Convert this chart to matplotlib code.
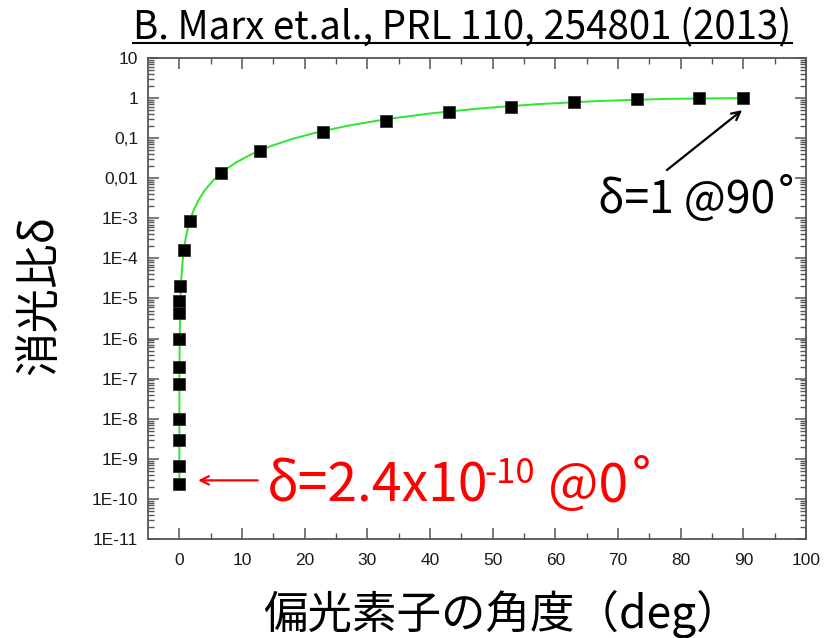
import matplotlib
matplotlib.use('Agg')
import matplotlib.pyplot as plt
from matplotlib.ticker import FixedLocator, FixedFormatter, LogLocator, NullFormatter
from matplotlib.lines import Line2D
import numpy as np

# measured points: polarizer angle (deg) and extinction ratio
angle_deg = [0.0, 0.0, 0.0, 0.0, 0.0, 0.0, 0.0, 0.0, 0.0, 0.16, 0.7, 1.7,
             6.7, 12.9, 22.9, 33.0, 43.0, 53.0, 62.9, 73.0, 83.0, 90.0]
ratio = [2.4e-10, 6.8e-10, 3.0e-9, 1.0e-8, 7.2e-8, 1.9e-7, 9.5e-7, 4.4e-6, 8.7e-6,
         2.1e-5, 1.6e-4, 8.7e-4, 0.0132, 0.048, 0.142, 0.27, 0.44, 0.61, 0.78,
         0.94, 0.99, 1.0]

# green fit line
fit_deg = [0.0, 0.02, 0.06, 0.12, 0.2, 0.3, 0.45, 0.6, 0.8, 1.0, 1.3, 1.7, 2.2,
           3.0, 4.0, 5.5, 7.0, 9.0, 11.5, 14.5, 18.0, 22.0, 27.0, 33.0, 40.0,
           48.0, 57.0, 67.0, 78.0, 90.0]
fit_ratio = [2.4e-10, 1.22e-7, 1.1e-6, 4.39e-6, 1.22e-5, 2.74e-5, 6.17e-5, 1.1e-4,
             1.95e-4, 3.05e-4, 5.15e-4, 8.8e-4, 1.47e-3, 2.74e-3, 4.87e-3, 9.19e-3,
             0.0149, 0.0245, 0.0397, 0.0627, 0.0955, 0.140, 0.206, 0.297, 0.413,
             0.552, 0.703, 0.847, 0.957, 1.0]

x_ticks = [0, 10, 20, 30, 40, 50, 60, 70, 80, 90, 100]
y_ticks = [1e-11, 1e-10, 1e-9, 1e-8, 1e-7, 1e-6, 1e-5, 1e-4, 1e-3, 1e-2, 1e-1, 1, 10]
y_labels = ['1E-11', '1E-10', '1E-9', '1E-8', '1E-7', '1E-6', '1E-5', '1E-4',
            '1E-3', '0,01', '0,1', '1', '10']

jp = ['Noto Sans CJK JP', 'DejaVu Sans']
axcol = '#555555'

fig = plt.figure(figsize=(8.29, 6.38), dpi=100)
ax = fig.add_axes([0.1785, 0.1552, 0.7938, 0.7539])

ax.plot(fit_deg, fit_ratio, color='#2ee62e', lw=1.4, zorder=2)
ax.plot(angle_deg, ratio, 's', ms=8.5, mfc='black', mec='#333333', mew=0.6, zorder=3)

ax.set_yscale('log')
ax.set_xlim(-5, 100)
ax.set_ylim(1e-11, 10)

ax.xaxis.set_major_locator(FixedLocator(x_ticks))
ax.xaxis.set_minor_locator(FixedLocator([x + 5 for x in x_ticks[:-1]]))
ax.yaxis.set_major_locator(FixedLocator(y_ticks))
ax.yaxis.set_major_formatter(FixedFormatter(y_labels))
ax.yaxis.set_minor_locator(LogLocator(base=10, subs=np.arange(2, 10), numticks=100))
ax.yaxis.set_minor_formatter(NullFormatter())

for lab in ax.get_xticklabels() + ax.get_yticklabels():
    lab.set_family('Liberation Sans')
ax.tick_params(which='both', direction='in', top=True, right=True, colors=axcol,
               labelcolor='#1a1a1a', labelsize=12.5)
ax.tick_params(which='major', length=8, width=1.1)
ax.tick_params(which='minor', length=4, width=1.0)
ax.tick_params(axis='x', pad=10)
ax.tick_params(axis='y', pad=7)
for sp in ax.spines.values():
    sp.set_color(axcol)
    sp.set_linewidth(1.3)

# annotations
ax.annotate('', xy=(89.8, 0.5), xytext=(77.8, 0.016),
            arrowprops=dict(arrowstyle='->,head_length=0.6,head_width=0.3',
                            color='black', lw=1.6, shrinkA=0, shrinkB=0))
ax.text(66.8, 1.35e-3, 'δ=1 @90˚', family=jp, fontsize=32, color='black',
        va='baseline', ha='left')

ax.annotate('', xy=(3.0, 2.9e-10), xytext=(12.5, 2.9e-10),
            arrowprops=dict(arrowstyle='->,head_length=0.6,head_width=0.3',
                            color='red', lw=1.6, shrinkA=0, shrinkB=0))
red1 = ax.text(13.9, 8.5e-11, 'δ=2.4x10', family=jp, fontsize=38.5, color='red',
               va='baseline', ha='left')

# axis titles
fig.text(0.047, 0.5376, '消光比δ', family=jp, fontsize=32, rotation=90,
         ha='center', va='center')
fig.text(0.318, 0.0157, '偏光素子の角度（deg）', family=jp, fontsize=32,
         ha='left', va='baseline')

title = fig.text(0.558, 0.939, 'B. Marx et.al., PRL 110, 254801 (2013)', family=jp,
                 fontsize=27.7, ha='center', va='baseline')

fig.canvas.draw()
W, H = fig.bbox.width, fig.bbox.height

# superscript and the rest of the red label, placed after the first part
base_y = ax.transData.transform((13.9, 8.5e-11))[1]
bb1 = red1.get_window_extent()
red2 = fig.text((bb1.x1 - 4) / W, (base_y + 19) / H, '-10', family=jp, fontsize=25,
                color='red', va='baseline', ha='left')
fig.canvas.draw()
bb2 = red2.get_window_extent()
fig.text((bb2.x1 + 13) / W, base_y / H, '@0˚', family=jp, fontsize=38.5,
         color='red', va='baseline', ha='left')

# underline for the title
bb = title.get_window_extent()
fig.add_artist(Line2D([bb.x0 / W, bb.x1 / W], [0.9326, 0.9326], color='black',
                      lw=1.5, transform=fig.transFigure))

fig.savefig('out.png', dpi=100)
